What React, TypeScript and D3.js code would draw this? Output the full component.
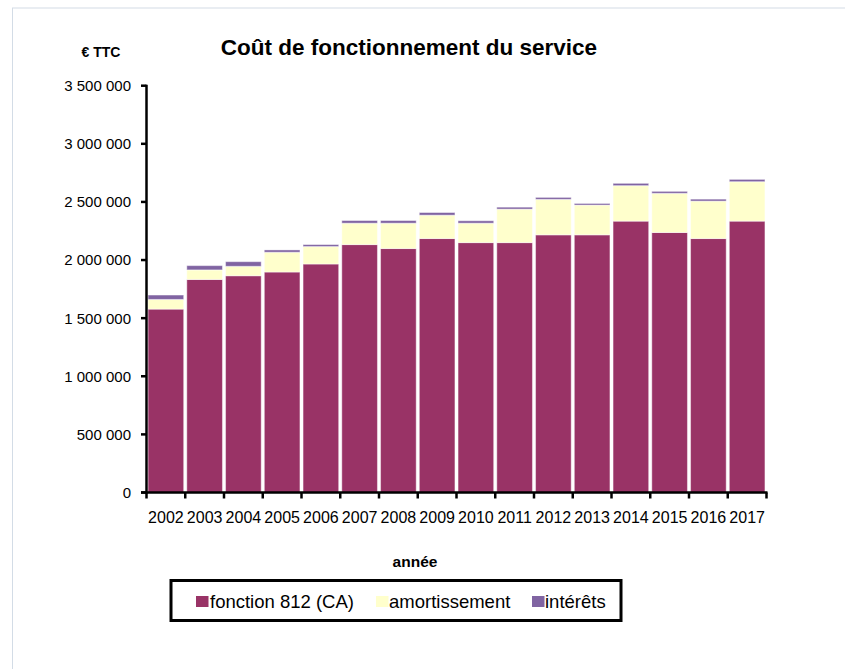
import React from "react";
import * as d3 from "d3";

const years = ["2002","2003","2004","2005","2006","2007","2008","2009","2010","2011","2012","2013","2014","2015","2016","2017"];
const fonction = [1578000,1833000,1865000,1897000,1966000,2133000,2099000,2185000,2150000,2150000,2217000,2217000,2335000,2237000,2185000,2335000];
const amortissement = [83000,82000,81000,170000,150000,184000,218000,201000,167000,288000,305000,256000,305000,337000,322000,339000];
const interets = [38000,37000,40000,20000,17000,23000,23000,23000,21000,17000,17000,14000,20000,17000,17000,20000];
const seriesNames = ["fonction 812 (CA)", "amortissement", "intérêts"];
const seriesColors = ["#993366", "#FFFFCC", "#8064A2"];
const yTicks = [0,500000,1000000,1500000,2000000,2500000,3000000,3500000];

const W = 845, H = 669;
const left = 146.5, right = 766.5, top = 85.7, bottom = 492.5;
const font = "'Liberation Sans', Arial, sans-serif";

export default function App() {
  const x = d3.scaleBand<string>().domain(years).range([left, right]).paddingInner(0.08).paddingOuter(0.04);
  const y = d3.scaleLinear().domain([0, 3500000]).range([bottom, top]);
  const rows = years.map((yr, i) => ({ year: yr, f: fonction[i], a: amortissement[i], n: interets[i] }));
  const stack = d3.stack<any>().keys(["f", "a", "n"])(rows);
  const fmt = (v: number) => d3.format(",")(v).replace(/,/g, " ");
  const step = (right - left) / years.length;
  const bounds = d3.range(years.length + 1).map(i => left + i * step);

  const legendItems = [
    { sx: 196, tx: 210, name: seriesNames[0], c: seriesColors[0] },
    { sx: 376, tx: 389, name: seriesNames[1], c: seriesColors[1] },
    { sx: 532, tx: 545, name: seriesNames[2], c: seriesColors[2] },
  ];

  return (
    <svg width={W} height={H} style={{ position: "absolute", left: 0, top: 0, background: "#fff" }} fontFamily={font}>
      <rect x={12.5} y={8} width={W + 10} height={H + 10} fill="#fff" stroke="#D3DCE6" strokeWidth={1} />
      <text x={409} y={55} textAnchor="middle" fontSize={22.5} fontWeight="bold" fill="#000">Coût de fonctionnement  du service</text>
      <text x={101} y={57} textAnchor="middle" fontSize={14} fontWeight="bold" fill="#000">€ TTC</text>

      {stack.map((s, si) => (
        <g key={si} fill={seriesColors[si]}>
          {s.map((d, i) => (
            <rect key={i} x={x(years[i])} y={y(d[1])} width={x.bandwidth()} height={y(d[0]) - y(d[1])}
              stroke="#ffffff" strokeOpacity={0.45} strokeWidth={1} />
          ))}
        </g>
      ))}

      {/* Y axis */}
      <line x1={left} x2={left} y1={top - 1} y2={bottom + 1} stroke="#000" strokeWidth={2.5} />
      {yTicks.map(t => (
        <g key={t}>
          <line x1={left - 5.5} x2={left} y1={y(t)} y2={y(t)} stroke="#000" strokeWidth={2.5} />
          <text x={131} y={y(t)} dy="0.36em" textAnchor="end" fontSize={15} fill="#000">{fmt(t)}</text>
        </g>
      ))}

      {/* X axis */}
      <line x1={left - 5.5} x2={right + 1} y1={bottom} y2={bottom} stroke="#000" strokeWidth={2.5} />
      {bounds.map((b, i) => (
        <line key={i} x1={b} x2={b} y1={bottom} y2={bottom + 6} stroke="#000" strokeWidth={2.5} />
      ))}
      {years.map(yr => (
        <text key={yr} x={(x(yr) as number) + x.bandwidth() / 2} y={522.5} textAnchor="middle" fontSize={16} fill="#000">{yr}</text>
      ))}
      <text x={415} y={567} textAnchor="middle" fontSize={15.5} fontWeight="bold" fill="#000">année</text>

      {/* Legend */}
      <rect x={171} y={580.5} width={450} height={40} fill="#fff" stroke="#000" strokeWidth={3} />
      {legendItems.map((l, i) => (
        <g key={i}>
          <rect x={l.sx} y={596} width={12.5} height={11} fill={l.c} />
          <text x={l.tx} y={607.5} fontSize={18.5} fill="#000">{l.name}</text>
        </g>
      ))}
    </svg>
  );
}
